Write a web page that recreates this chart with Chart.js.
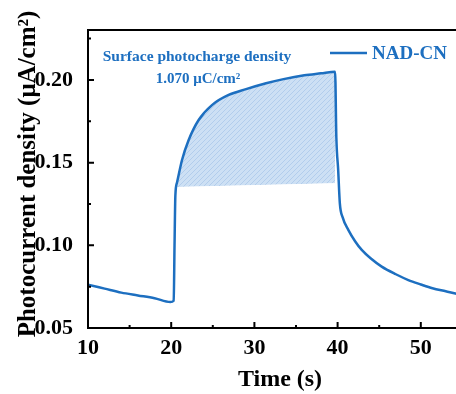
<!DOCTYPE html>
<html><head><meta charset="utf-8">
<script src="https://cdn.jsdelivr.net/npm/chart.js@4"></script>
<style>html,body{margin:0;padding:0;overflow:hidden;background:#fff}canvas{display:block}</style>
</head><body>
<canvas id="c" width="514" height="394" style="width:514px;height:394px"></canvas>
<script>
// ---- data ----
const times   = [10, 12, 14, 16, 18, 19.9, 20.3, 20.4, 20.5, 20.7, 21.3, 22.1, 23.3, 24.9, 26.9, 28.9, 31.4, 33.5, 36, 38, 39.7, 39.85, 40.07, 40.27, 40.6, 41.3, 42.1, 42.9, 44, 45.3, 47, 48.5, 50, 51.4, 53, 54.4, 56];
const current = [0.0762, 0.0738, 0.0714, 0.0697, 0.0680, 0.0657, 0.0665, 0.1000, 0.1300, 0.1380, 0.1516, 0.1637, 0.1758, 0.1848, 0.1909, 0.1943, 0.1980, 0.2005, 0.2028, 0.2040, 0.2050, 0.1650, 0.1455, 0.1254, 0.1170, 0.1092, 0.1025, 0.0972, 0.0920, 0.0871, 0.0825, 0.0790, 0.0763, 0.0740, 0.0722, 0.0706, 0.0692];
const baseTimes = [20.5, 39.7];
const baseValues = [0.1352, 0.1376];
const chargeWindow = [20.5, 39.7];
const xTicks = [10, 20, 30, 40, 50, 60];
const xMinor = [15, 25, 35, 45, 55];
const yTicks = [0.05, 0.10, 0.15, 0.20];
const yMinor = [0.075, 0.125, 0.175, 0.225];
const seriesName = 'NAD-CN';
const noteLine1 = 'Surface photocharge density';
const noteLine2 = '1.070 \u03bcC/cm\u00b2';
const xTitle = 'Time (s)';
const yTitle = 'Photocurrent density (\u03bcA/cm\u00b2)';

const BLUE = '#1d6fc0';
const FONT = '"Liberation Serif", "Times New Roman", serif';

const canvas = document.getElementById('c');
const ctx0 = canvas.getContext('2d');
function hatch() {
  const c = document.createElement('canvas'); c.width = 5; c.height = 5;
  const g = c.getContext('2d');
  g.fillStyle = '#cde0f4'; g.fillRect(0, 0, 5, 5);
  g.strokeStyle = '#b2cdec'; g.lineWidth = 1;
  g.beginPath();
  g.moveTo(0, 5); g.lineTo(5, 0);
  g.moveTo(-1, 1); g.lineTo(1, -1);
  g.moveTo(4, 6); g.lineTo(6, 4);
  g.stroke();
  return ctx0.createPattern(c, 'repeat');
}

const linePts = times.map((t, i) => ({x: t, y: current[i]}));
const fillPts = linePts.filter(p => p.x >= chargeWindow[0] && p.x <= chargeWindow[1]);
const basePts = baseTimes.map((t, i) => ({x: t, y: baseValues[i]}));

const decor = {
  id: 'decor',
  afterDraw(chart) {
    const {ctx, chartArea: a, scales: {x, y}} = chart;
    ctx.save();
    ctx.strokeStyle = '#000'; ctx.lineWidth = 2;
    ctx.strokeRect(a.left, a.top, a.right - a.left, a.bottom - a.top);
    ctx.beginPath();
    xTicks.forEach(v => { const px = x.getPixelForValue(v); ctx.moveTo(px, a.bottom); ctx.lineTo(px, a.bottom - 6); });
    xMinor.forEach(v => { const px = x.getPixelForValue(v); ctx.moveTo(px, a.bottom); ctx.lineTo(px, a.bottom - 3); });
    yTicks.forEach(v => { const py = y.getPixelForValue(v); ctx.moveTo(a.left, py); ctx.lineTo(a.left + 6, py); });
    yMinor.forEach(v => { const py = y.getPixelForValue(v); ctx.moveTo(a.left, py); ctx.lineTo(a.left + 3, py); });
    ctx.stroke();

    // axis titles
    ctx.fillStyle = '#000';
    ctx.textAlign = 'center'; ctx.textBaseline = 'middle';
    ctx.font = 'bold 24px ' + FONT;
    ctx.fillText(xTitle, 280, 380);
    ctx.save();
    ctx.translate(29, 174); ctx.rotate(-Math.PI / 2);
    ctx.font = 'bold 25px ' + FONT;
    ctx.fillText(yTitle, 0, 0);
    ctx.restore();

    // legend
    ctx.strokeStyle = BLUE; ctx.lineWidth = 2.5;
    ctx.beginPath(); ctx.moveTo(330, 53); ctx.lineTo(367, 53); ctx.stroke();
    ctx.fillStyle = BLUE; ctx.textAlign = 'left';
    ctx.font = 'bold 19px ' + FONT;
    ctx.fillText(seriesName, 372, 54);

    // note
    ctx.textAlign = 'center';
    ctx.font = 'bold 15.5px ' + FONT;
    ctx.fillText(noteLine1, 197, 57);
    ctx.font = 'bold 15px ' + FONT;
    ctx.fillText(noteLine2, 198, 79);
    ctx.restore();
  }
};

new Chart(canvas, {
  type: 'line',
  data: {
    datasets: [
      {data: basePts, borderWidth: 0, borderColor: 'rgba(0,0,0,0)', pointRadius: 0, fill: false, order: 2},
      {data: fillPts, borderWidth: 0, borderColor: 'rgba(0,0,0,0)', pointRadius: 0, cubicInterpolationMode: 'monotone',
       fill: {target: 0, above: hatch(), below: 'rgba(0,0,0,0)'}, order: 1},
      {label: seriesName, data: linePts, borderColor: BLUE, borderWidth: 2.5, pointRadius: 0, fill: false,
       cubicInterpolationMode: 'monotone', order: 0}
    ]
  },
  options: {
    responsive: false, animation: false,
    layout: {padding: {top: 30, right: 10, left: 0, bottom: 0}},
    plugins: {legend: {display: false}, tooltip: {enabled: false}},
    scales: {
      x: {
        type: 'linear', min: 10, max: 60,
        grid: {display: false}, border: {display: false},
        afterBuildTicks: s => { s.ticks = xTicks.map(v => ({value: v})); },
        afterFit: s => { s.height = 66; },
        ticks: {color: '#000', padding: -1, maxRotation: 0, font: {family: FONT, size: 22, weight: 'bold'}, callback: v => String(v)}
      },
      y: {
        type: 'linear', min: 0.05, max: 0.2302,
        grid: {display: false}, border: {display: false},
        afterBuildTicks: s => { s.ticks = yTicks.map(v => ({value: v})); },
        afterFit: s => { s.width = 88; },
        ticks: {color: '#000', padding: 7, font: {family: FONT, size: 22, weight: 'bold'}, callback: v => Number(v).toFixed(2)}
      }
    }
  },
  plugins: [decor]
});
</script>
</body></html>
